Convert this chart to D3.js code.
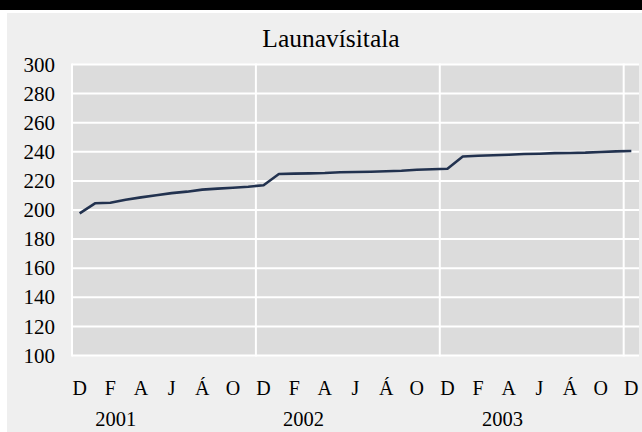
<!DOCTYPE html>
<html><head><meta charset="utf-8">
<script src="https://cdn.jsdelivr.net/npm/d3@7"></script>
</head><body style="margin:0">
<script>
const title = "Launavísitala";
const monthLabels = ["D","J","F","M","A","M","J","J","Á","S","O","N","D","J","F","M","A","M","J","J","Á","S","O","N","D","J","F","M","A","M","J","J","Á","S","O","N","D"];
const values = [197.7,204.6,205.0,207.1,208.7,210.1,211.6,212.6,214.0,214.7,215.3,216.0,217.0,
                224.7,225.0,225.2,225.4,225.9,226.1,226.3,226.6,227.0,227.7,228.0,228.4,
                236.8,237.3,237.6,238.0,238.5,238.7,239.1,239.2,239.4,239.9,240.3,240.5];
const yTicks = [100,120,140,160,180,200,220,240,260,280,300];
const years = ["2001","2002","2003"];

const W = 642, H = 432;
const svg = d3.select("body").append("svg").attr("width", W).attr("height", H)
  .style("display","block");
svg.append("rect").attr("x",0).attr("y",0).attr("width",W).attr("height",H).attr("fill","#fff");
svg.append("rect").attr("x",0).attr("y",0).attr("width",W).attr("height",10).attr("fill","#000");
svg.append("rect").attr("x",7).attr("y",13).attr("width",W-7).attr("height",H-13).attr("fill","#efefef");

const pL = 72, pR = 639, pT = 64.5, pB = 355.5;
const idx = d3.range(values.length);
const x = d3.scaleBand().domain(idx).range([pL, pR]).padding(0);
const y = d3.scaleLinear().domain([100, 300]).range([pB, pT]);

svg.append("rect").attr("x", pL).attr("y", pT).attr("width", pR-pL).attr("height", pB-pT).attr("fill","#dcdcdc");

svg.append("g").selectAll("line").data(yTicks).join("line")
  .attr("x1", pL).attr("x2", pR).attr("y1", d=>y(d)).attr("y2", d=>y(d))
  .attr("stroke","#fff").attr("stroke-width",2);
const seps = [0,12,24,36];
svg.append("g").selectAll("line").data(seps).join("line")
  .attr("x1", d=>x(d)).attr("x2", d=>x(d)).attr("y1", pT-1).attr("y2", pB+1)
  .attr("stroke","#fff").attr("stroke-width",2);

function serif(sel, size){
  return sel.attr("font-family", "Liberation Serif").style("font-family", d => '"Liberation Serif"')
    .style("font-size", size + "px").attr("fill", "#000");
}

serif(svg.append("g").selectAll("text").data(yTicks).join("text")
  .attr("x", 55).attr("y", d=>y(d)).attr("dy","0.34em").attr("text-anchor","end"), 21)
  .text(d=>String(d));

const line = d3.line().x((d,i)=>x(i)+x.bandwidth()/2).y(d=>y(d));
svg.append("path").datum(values).attr("d", line).attr("fill","none")
  .attr("stroke","#22324f").attr("stroke-width",2.6).attr("stroke-linejoin","round");

serif(svg.append("g").selectAll("text").data(idx.filter(i=>i%2===0)).join("text")
  .attr("x", i=>x(i)+x.bandwidth()/2).attr("y", 395).attr("text-anchor","middle"), 20)
  .text(i=>monthLabels[i]);

const yearOffsets = [2.85, 15.1, 28.1];
serif(svg.append("g").selectAll("text").data(years).join("text")
  .attr("x", (d,i)=>pL + yearOffsets[i]*x.step()).attr("y", 426).attr("text-anchor","middle"), 20.5)
  .text(d=>d);

serif(svg.append("text").datum(title).attr("x", 331).attr("y", 47).attr("text-anchor","middle"), 25.5)
  .text(d=>d);
</script>
</body></html>
